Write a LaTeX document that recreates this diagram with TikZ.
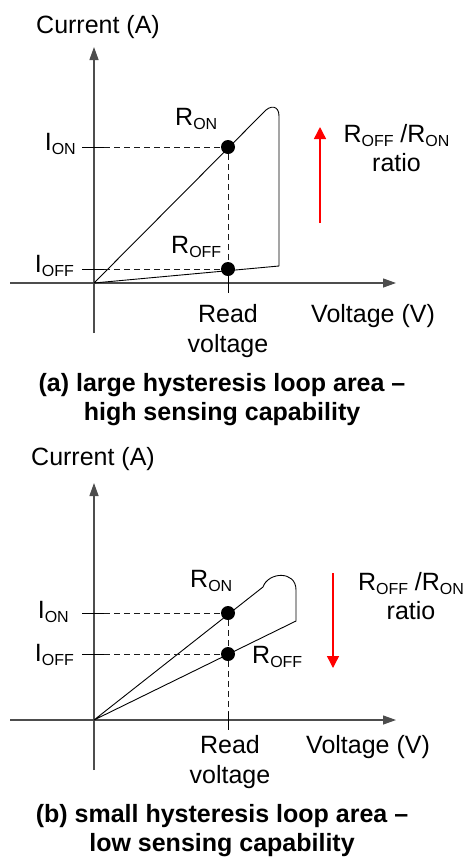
\documentclass[tikz,border=0pt]{standalone}
\usepackage{fontspec}
\setmainfont{Liberation Sans}
\usepackage{tikz}
\usetikzlibrary{arrows.meta}
\definecolor{axisc}{HTML}{4D4D4D}
\definecolor{arrc}{HTML}{FF0000}
\definecolor{dashc}{HTML}{1A1A1A}
\tikzset{
  >={Triangle[length=13pt,width=9pt]},
  axis/.style={->,draw=axisc,line width=1.3pt},
  curve/.style={draw=black,line width=0.9pt,line join=round},
  guide/.style={draw=dashc,line width=0.9pt,dash pattern=on 6pt off 4pt},
  tick/.style={draw=black,line width=0.9pt},
  pt/.style={circle,fill=black,minimum size=14pt,inner sep=0pt},
  lbl/.style={font=\fontsize{25}{30}\selectfont,inner sep=0pt},
  two/.style={lbl,align=center},
  rat/.style={lbl,align=center,font=\fontsize{25}{29}\selectfont},
  capt/.style={font=\fontsize{25}{29}\selectfont\bfseries,align=center,inner sep=0pt},
  ratio/.style={-{Triangle[length=12pt,width=12pt]},draw=arrc,line width=1.4pt},
}
\newcommand{\lo}[1]{\raisebox{-4pt}{\fontsize{16}{16}\selectfont #1}}

\begin{document}
\begin{tikzpicture}[x=1pt,y=-1pt]
  \useasboundingbox (0,0) rectangle (465,860);
  % (a) large loop
  \coordinate (oA) at (94,283);
  \coordinate (ytA) at (94,47);  \coordinate (ybA) at (94,333);
  \coordinate (xlA) at (10,283); \coordinate (xrA) at (396,283);
  \draw[axis] (ybA) -- (ytA);
  \draw[axis] (xlA) -- (xrA);
  \coordinate (lpA) at (264,112); \coordinate (rtA) at (279,116); \coordinate (rbA) at (279,266);
  \draw[curve] (oA) -- (lpA) .. controls (270,105) and (279,105) .. (rtA) -- (rbA) -- cycle;
  \node[pt] (onA) at (228,147) {};
  \node[pt] (offA) at (228,269) {};
  \coordinate (t1A) at (82,147);  \coordinate (t2A) at (104,147);
  \coordinate (t3A) at (82,269);  \coordinate (t4A) at (104,269);
  \coordinate (rdA) at (228,293);
  \draw[tick] (t1A) -- (t2A);  \draw[guide] (t2A) -- (onA);
  \draw[tick] (t3A) -- (t4A);  \draw[guide] (t4A) -- (offA);
  \draw[guide] (onA) -- (offA);
  \draw[tick] (offA) -- (rdA);
  \node[lbl,anchor=base west] (curA) at (36,33) {Current (A)};
  \node[lbl,anchor=base east] (ionA) at (76,150) {I\lo{ON}};
  \node[lbl,anchor=base east] (ioffA) at (74,272) {I\lo{OFF}};
  \node[lbl,anchor=base west] (ronA) at (175,125) {R\lo{ON}};
  \node[lbl,anchor=base west] (roffA) at (171,253) {R\lo{OFF}};
  \node[lbl,anchor=base west] (volA) at (311,322) {Voltage (V)};
  \node[two] (readA) at (228,331) {Read\\voltage};
  \node[rat] (ratA) at (396.5,148.4) {R\lo{OFF} /R\lo{ON}\\ratio};
  \coordinate (a1A) at (320,223); \coordinate (a2A) at (320,127);
  \draw[ratio] (a1A) -- (a2A);
  \node[capt] (capA) at (222,400) {(a) large hysteresis loop area --\\high sensing capability};
  % (b) small loop
  \coordinate (oB) at (94,720);
  \coordinate (ytB) at (94,483);  \coordinate (ybB) at (94,770);
  \coordinate (xlB) at (10,720); \coordinate (xrB) at (396,720);
  \draw[axis] (ybB) -- (ytB);
  \draw[axis] (xlB) -- (xrB);
  \coordinate (lpB) at (263,587); \coordinate (rtB) at (296,590); \coordinate (rbB) at (296,621);
  \draw[curve] (oB) -- (lpB) .. controls (268,572) and (296,570) .. (rtB) -- (rbB) -- cycle;
  \node[pt] (onB) at (228,613) {};
  \node[pt] (offB) at (228,654) {};
  \coordinate (t1B) at (82,613);  \coordinate (t2B) at (104,613);
  \coordinate (t3B) at (82,654);  \coordinate (t4B) at (104,654);
  \coordinate (t5B) at (228,712); \coordinate (rdB) at (228,730);
  \draw[tick] (t1B) -- (t2B);  \draw[guide] (t2B) -- (onB);
  \draw[tick] (t3B) -- (t4B);  \draw[guide] (t4B) -- (offB);
  \draw[guide] (onB) -- (offB);
  \draw[guide] (offB) -- (t5B);
  \draw[tick] (t5B) -- (rdB);
  \node[lbl,anchor=base west] (curB) at (31,465) {Current (A)};
  \node[lbl,anchor=base east] (ionB) at (69,618) {I\lo{ON}};
  \node[lbl,anchor=base east] (ioffB) at (74,661) {I\lo{OFF}};
  \node[lbl,anchor=base west] (ronB) at (190,587) {R\lo{ON}};
  \node[lbl,anchor=base west] (roffB) at (252,663) {R\lo{OFF}};
  \node[lbl,anchor=base west] (volB) at (306,753) {Voltage (V)};
  \node[two] (readB) at (230,762) {Read\\voltage};
  \node[rat] (ratB) at (411,596.4) {R\lo{OFF} /R\lo{ON}\\ratio};
  \coordinate (a1B) at (333,573); \coordinate (a2B) at (333,668);
  \draw[ratio] (a1B) -- (a2B);
  \node[capt] (capB) at (222,831) {(b) small hysteresis loop area --\\low sensing capability};
\end{tikzpicture}
\end{document}
